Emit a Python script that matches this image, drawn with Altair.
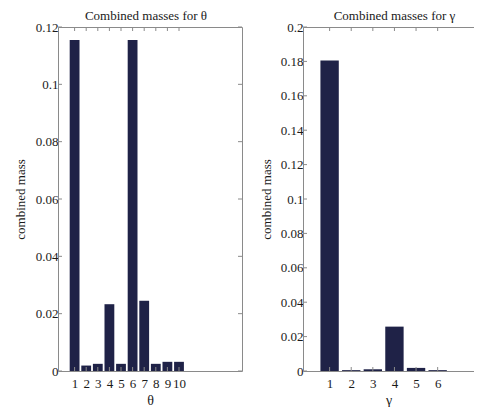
import altair as alt
import pandas as pd

# ---- data ----
theta_idx = [1, 2, 3, 4, 5, 6, 7, 8, 9, 10]
theta_mass = [0.1155, 0.0019, 0.0025, 0.0233, 0.0025, 0.1155, 0.0245, 0.0025, 0.0032, 0.0032]
gamma_idx = [1, 2, 3, 4, 5, 6]
gamma_mass = [0.1805, 0.0005, 0.0010, 0.0258, 0.0018, 0.0005]
theta_yticks = [0, 0.02, 0.04, 0.06, 0.08, 0.1, 0.12]
gamma_yticks = [0, 0.02, 0.04, 0.06, 0.08, 0.1, 0.12, 0.14, 0.16, 0.18, 0.2]

NAVY = "#1f2247"
FRAME = "#8a8a8a"
TEXT = "#1a1a1a"
FONT = "Liberation Serif"


def panel(idx, mass, yticks, xdom, ydom, w, h, xtitle, title, title_dx, ytp, right_side):
    df = pd.DataFrame({"k": idx, "m": mass})
    xt = pd.DataFrame({"v": idx})
    yt = pd.DataFrame({"v": yticks})
    xs = alt.Scale(domain=xdom, nice=False, zero=False)
    ys = alt.Scale(domain=ydom, nice=False)
    unit = w / (xdom[1] - xdom[0])

    bars = alt.Chart(df).mark_bar(size=0.8 * unit, color=NAVY).encode(
        x=alt.X("k:Q", scale=xs,
                axis=alt.Axis(values=idx, title=xtitle, format="d", ticks=False, tickSize=0,
                              labelPadding=6, titlePadding=3, titleFontSize=14,
                              minExtent=0, domain=True, domainColor=FRAME, grid=False)),
        y=alt.Y("m:Q", scale=ys,
                axis=alt.Axis(values=yticks, title="combined mass", format=".2~f", ticks=False,
                              tickSize=0, labelPadding=0, titlePadding=ytp, titleFontSize=13,
                              minExtent=0, domain=True, domainColor=FRAME, grid=False)),
    )
    top_ticks = alt.Chart(xt).mark_rule(color=FRAME).encode(
        x=alt.X("v:Q", scale=xs,
                axis=alt.Axis(orient="top", labels=False, title=None, ticks=False, tickSize=0,
                              minExtent=0, maxExtent=0, domain=True, domainColor=FRAME,
                              grid=False)),
        y=alt.value(0), y2=alt.value(4),
    )
    bottom_ticks = alt.Chart(xt).mark_rule(color=FRAME).encode(
        x=alt.X("v:Q", scale=xs, axis=None),
        y=alt.value(h - 4), y2=alt.value(h),
    )
    left_ticks = alt.Chart(yt).mark_rule(color=FRAME).encode(
        y=alt.Y("v:Q", scale=ys, axis=None),
        x=alt.value(0), x2=alt.value(4),
    )
    layers = [bars, top_ticks, bottom_ticks, left_ticks]
    if right_side:
        right_ticks = alt.Chart(yt).mark_rule(color=FRAME).encode(
            y=alt.Y("v:Q", scale=ys,
                    axis=alt.Axis(orient="right", labels=False, title=None, ticks=False,
                                  tickSize=0, minExtent=0, maxExtent=0, domain=True,
                                  domainColor=FRAME, grid=False)),
            x=alt.value(w - 4), x2=alt.value(w),
        )
        layers.append(right_ticks)
    return (
        alt.layer(*layers)
        .resolve_axis(x="independent", y="independent")
        .properties(width=w, height=h, title=alt.TitleParams(title, dx=title_dx),
                    view=alt.ViewBackground(stroke=None))
    )


left = panel(theta_idx, theta_mass, theta_yticks, [0, 15], [0, 0.12], 184, 344,
             "θ", "Combined masses for θ", -4, 8, True)
right = panel(gamma_idx, gamma_mass, gamma_yticks, [0, 7.45], [0, 0.2], 171, 344,
              "γ", "Combined masses for γ", 6, 7, False)

chart = (
    alt.hconcat(left, right, spacing=17)
    .properties(padding={"left": 6, "top": 2, "right": 0, "bottom": 0}, background="white")
    .configure_axis(labelFont=FONT, titleFont=FONT, labelFontSize=13, labelColor=TEXT,
                    titleColor=TEXT, titleFontWeight="normal")
    .configure_title(font=FONT, fontSize=13, fontWeight="normal", color=TEXT, offset=-2)
)

chart.save("out.html", embed_options={"renderer": "svg", "actions": False})
